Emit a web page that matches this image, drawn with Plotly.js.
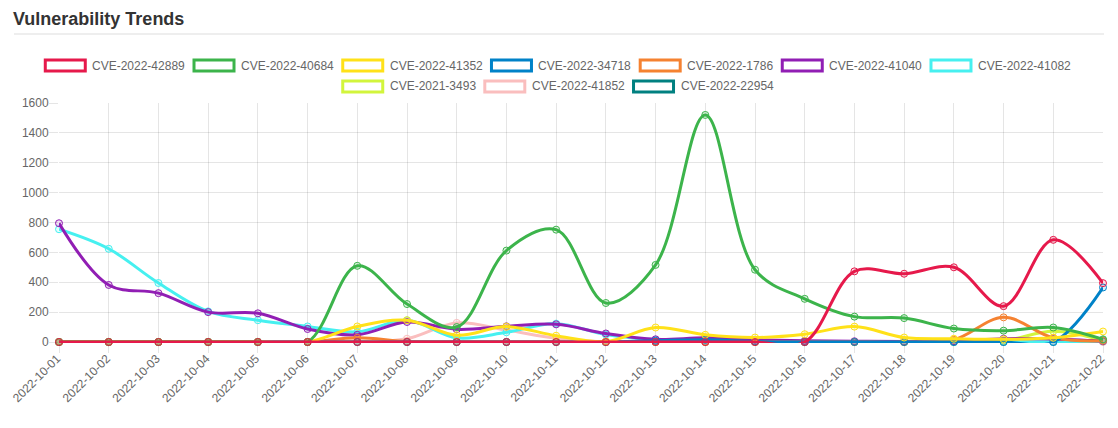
<!DOCTYPE html>
<html>
<head>
<meta charset="utf-8">
<script src="https://cdn.plot.ly/plotly-3.0.1.min.js"></script>
<style>
  html, body { margin: 0; padding: 0; background: #fff; }
  #chart { width: 1118px; height: 428px; }
</style>
</head>
<body>
<div id="chart"></div>
<script>
// ---- Data ----
const dates = ['2022-10-01','2022-10-02','2022-10-03','2022-10-04','2022-10-05','2022-10-06','2022-10-07',
  '2022-10-08','2022-10-09','2022-10-10','2022-10-11','2022-10-12','2022-10-13','2022-10-14','2022-10-15',
  '2022-10-16','2022-10-17','2022-10-18','2022-10-19','2022-10-20','2022-10-21','2022-10-22'];

const seriesNames = ['CVE-2022-42889','CVE-2022-40684','CVE-2022-41352','CVE-2022-34718','CVE-2022-1786',
  'CVE-2022-41040','CVE-2022-41082','CVE-2021-3493','CVE-2022-41852','CVE-2022-22954'];

const cve42889 = [0,0,0,0,0,0,0,0,0,0,0,0,0,0,0,0,473,457,500,240,684,394];
const cve40684 = [0,0,0,0,0,0,510,254,100,612,752,261,516,1520,484,289,170,160,90,76,97,18];
const cve41352 = [0,0,0,0,0,0,104,146,45,103,42,3,97,48,30,52,103,30,22,18,28,70];
const cve34718 = [0,0,0,0,0,0,0,0,0,0,0,0,8,15,3,0,0,0,0,0,0,365];
const cve1786  = [0,0,0,0,0,0,28,3,0,0,0,0,0,0,0,0,0,0,15,165,28,8];
const cve41040 = [795,382,327,200,192,87,48,134,85,105,118,57,18,28,15,8,5,3,5,22,20,5];
const cve41082 = [755,624,395,205,146,104,68,145,28,65,123,50,15,10,5,3,0,0,0,0,0,5];
const cve3493  = [0,0,0,0,0,0,0,0,0,0,0,0,0,0,0,0,0,0,0,8,72,10];
const cve41852 = [0,0,0,0,0,0,0,22,128,80,25,0,0,0,0,0,0,0,0,0,0,0];
const cve22954 = [0,0,0,0,0,0,0,0,0,0,0,0,0,0,0,0,0,0,0,0,0,12];

const seriesValues = [cve42889, cve40684, cve41352, cve34718, cve1786, cve41040, cve41082, cve3493, cve41852, cve22954];
const seriesColors = ['#e6194b','#3cb44b','#ffe119','#0082c8','#f58231','#911eb4','#46f0f0','#d2f53c','#fabebe','#008080'];

const yTicks = [0,200,400,600,800,1000,1200,1400,1600];

// ---- Geometry ----
const W = 1118, H = 428;
const M = { l: 59, r: 15, t: 103, b: 85 };
const PW = W - M.l - M.r, PH = H - M.t - M.b;
const px2x = px => (px - M.l) / PW;
const py2y = py => (H - M.b - py) / PH;
const FONT = "'Liberation Sans', Arial, Helvetica, sans-serif";

function hexA(hex, a) {
  const n = parseInt(hex.slice(1), 16);
  return `rgba(${(n >> 16) & 255},${(n >> 8) & 255},${n & 255},${a})`;
}

// ---- Traces (drawn in reverse so the first series is on top) ----
const traces = [];
for (let i = seriesNames.length - 1; i >= 0; i--) {
  traces.push({
    type: 'scatter',
    mode: 'lines+markers',
    name: seriesNames[i],
    x: dates,
    y: seriesValues[i],
    line: { color: seriesColors[i], width: 3, shape: 'spline', smoothing: 1 },
    marker: { symbol: 'circle', size: 7, color: hexA(seriesColors[i], 0.15),
              line: { color: seriesColors[i], width: 1 } },
    cliponaxis: false,
    showlegend: false,
    hoverinfo: 'x+y+name'
  });
}

// ---- Custom legend (Chart.js style boxes) ----
const legFs = 12, boxW = 40, boxH = 11, textOff = 46, gap = 10, legendMax = 1090, legendCenter = 557.5;
const ctx = document.createElement('canvas').getContext('2d');
ctx.font = legFs + "px 'Liberation Sans'";
const rowY = [65.5, 86.5];
const rows = [];
let cur = [], curW = 0;
seriesNames.forEach((nm, i) => {
  const tw = ctx.measureText(nm).width;
  const w = textOff + tw + gap;
  if (cur.length && curW + w > legendMax) { rows.push(cur); cur = []; curW = 0; }
  cur.push({ i, tw, w }); curW += w;
});
if (cur.length) rows.push(cur);

const shapes = [];
const annotations = [];
rows.forEach((row, r) => {
  const span = row.reduce((s, it) => s + it.w, 0) - gap;
  let x = legendCenter - span / 2;
  const cy = rowY[r];
  row.forEach(it => {
    shapes.push({ type: 'rect', xref: 'paper', yref: 'paper',
      x0: px2x(x), x1: px2x(x + boxW), y0: py2y(cy + boxH / 2), y1: py2y(cy - boxH / 2),
      line: { color: seriesColors[it.i], width: 3 }, fillcolor: '#ffffff', layer: 'above' });
    annotations.push({ xref: 'paper', yref: 'paper', x: px2x(x + textOff - 1), y: py2y(cy),
      xanchor: 'left', yanchor: 'middle', showarrow: false, text: seriesNames[it.i],
      font: { family: FONT, size: legFs, color: '#666' } });
    x += it.w;
  });
});

// title underline
shapes.push({ type: 'line', xref: 'paper', yref: 'paper', x0: px2x(14), x1: px2x(1104),
  y0: py2y(34), y1: py2y(34), line: { color: '#dddddd', width: 1 } });

const layout = {
  width: W, height: H,
  margin: M,
  paper_bgcolor: '#ffffff', plot_bgcolor: '#ffffff',
  showlegend: false,
  title: { text: 'Vulnerability Trends', xref: 'container', yref: 'container',
    x: 13 / W, xanchor: 'left', y: 1 - 19 / H, yanchor: 'middle',
    font: { family: FONT, size: 18, color: '#333', weight: 'bold' } },
  xaxis: {
    type: 'category', range: [0, dates.length - 1],
    showgrid: true, gridcolor: 'rgba(0,0,0,0.1)', gridwidth: 1,
    ticks: 'outside', ticklen: 9, tickcolor: 'rgba(0,0,0,0.1)', tickwidth: 1,
    tickangle: -45, tickfont: { family: FONT, size: 12, color: '#666' },
    ticklabelstandoff: -6, ticklabelshift: -2,
    showline: false, zeroline: false, fixedrange: true
  },
  yaxis: {
    range: [-6.7, 1600], tickvals: yTicks, ticktext: yTicks.map(String),
    showgrid: true, gridcolor: 'rgba(0,0,0,0.1)', gridwidth: 1,
    zeroline: true, zerolinecolor: 'rgba(0,0,0,0.25)', zerolinewidth: 1,
    ticks: 'outside', ticklen: 9, tickcolor: 'rgba(0,0,0,0.1)', tickwidth: 1,
    tickfont: { family: FONT, size: 12, color: '#666' },
    ticklabelstandoff: -2,
    showline: false, fixedrange: true
  },
  shapes, annotations
};

Plotly.newPlot('chart', traces, layout, { displayModeBar: false });
</script>
</body>
</html>
